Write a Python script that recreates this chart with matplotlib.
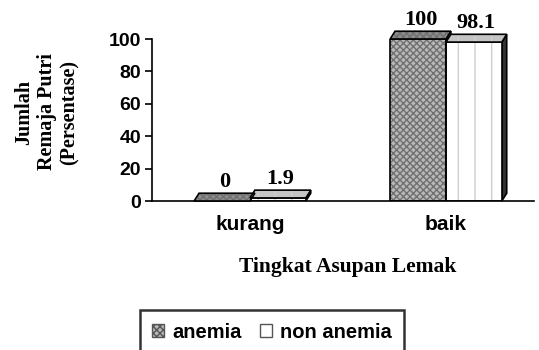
import matplotlib
matplotlib.use("Agg")
import matplotlib.pyplot as plt
from matplotlib.patches import Polygon, Patch
import numpy as np

# data
categories = ["kurang", "baik"]
anemia = [0, 100]
non_anemia = [1.9, 98.1]
value_labels_anemia = ["0", "100"]
value_labels_non = ["1.9", "98.1"]
series_names = ["anemia", "non anemia"]

sans = "Liberation Sans"
serif = "Liberation Serif"

fig = plt.figure(figsize=(5.39, 3.5), dpi=100)
ax = fig.add_axes([152/539, 1-201/350, 0.709, (201-39)/350])

x = np.arange(len(categories))
w = 0.285
dx = 0.025   # depth offset (x, data units)
dy = 4.8     # depth offset (y, data units)


def bar3d(xc, h, face, hatch, hcol, topcol, sidecol):
    x0 = xc - w/2
    x1 = xc + w/2
    # hatched front face
    ax.bar(xc, h, w, color=face, edgecolor=hcol, hatch=hatch, linewidth=0, zorder=2)
    ax.bar(xc, h, w, fill=False, edgecolor="black", linewidth=1.2, zorder=3)
    # top face
    pts = [(x0, h), (x1, h), (x1+dx, h+dy), (x0+dx, h+dy)]
    ax.add_patch(Polygon(pts, closed=True, facecolor=topcol, edgecolor=hcol, hatch=hatch,
                         linewidth=0, clip_on=False, zorder=4))
    ax.add_patch(Polygon(pts, closed=True, fill=False, edgecolor="black",
                         linewidth=1.2, clip_on=False, zorder=5))
    # right side face
    side = Polygon([(x1, 0), (x1+dx, dy), (x1+dx, h+dy), (x1, h)], closed=True,
                   facecolor=sidecol, edgecolor="black", linewidth=1.2, clip_on=False, zorder=1)
    ax.add_patch(side)


for i in range(len(categories)):
    bar3d(x[i] - w/2, anemia[i], "#b8b8b8", "xxxxx", "#707070", "#8c8c8c", "#555555")
    bar3d(x[i] + w/2, non_anemia[i], "white", "|", "#cfcfcf", "#c4c4c4", "#333333")
    ax.text(x[i] - w/2 + dx/2, anemia[i] + dy + 0.5, value_labels_anemia[i], ha="center", va="bottom",
            fontsize=16, fontweight="bold", family=serif)
    ax.text(x[i] + w/2 + dx/2, non_anemia[i] + dy + 0.5, value_labels_non[i], ha="center", va="bottom",
            fontsize=16, fontweight="bold", family=serif)

ax.set_xlim(-0.5, 1.45)
ax.set_ylim(0, 100)
ax.set_yticks([0, 20, 40, 60, 80, 100])
ax.set_xticks(x)
ax.set_xticklabels(categories)
ax.tick_params(axis="x", length=0, pad=10)
ax.tick_params(axis="y", length=5, width=1.2, pad=3)
for lab in ax.get_xticklabels():
    lab.set_fontfamily(sans)
    lab.set_fontweight("bold")
    lab.set_fontsize(15)
for lab in ax.get_yticklabels():
    lab.set_fontfamily(sans)
    lab.set_fontweight("bold")
    lab.set_fontsize(14)

ax.spines["top"].set_visible(False)
ax.spines["right"].set_visible(False)
ax.spines["left"].set_linewidth(1.2)
ax.spines["bottom"].set_linewidth(1.2)
ax.patch.set_visible(False)

fig.text(47/539, 1-112/350, "Jumlah\nRemaja Putri\n(Persentase)", rotation=90,
         ha="center", va="center", fontsize=14.5, fontweight="bold", family=serif,
         multialignment="center", linespacing=1.2)
fig.text(348/539, 1-267/350, "Tingkat Asupan Lemak", ha="center", va="center",
         fontsize=15.5, fontweight="bold", family=serif)

handles = [Patch(facecolor="#b8b8b8", edgecolor="#555555", hatch="xxxxx"),
           Patch(facecolor="white", edgecolor="#555555")]
leg = fig.legend(handles, series_names, loc="center", bbox_to_anchor=(272/539, 1-332/350),
                 ncol=2, frameon=True, fancybox=False, handlelength=0.6, handleheight=0.6,
                 handletextpad=0.4, columnspacing=0.9, borderpad=0.6, borderaxespad=0,
                 prop={"family": sans, "weight": "bold", "size": 14.5})
leg.get_frame().set_edgecolor("black")
leg.get_frame().set_linewidth(1.8)

fig.savefig("out.png", dpi=100)
